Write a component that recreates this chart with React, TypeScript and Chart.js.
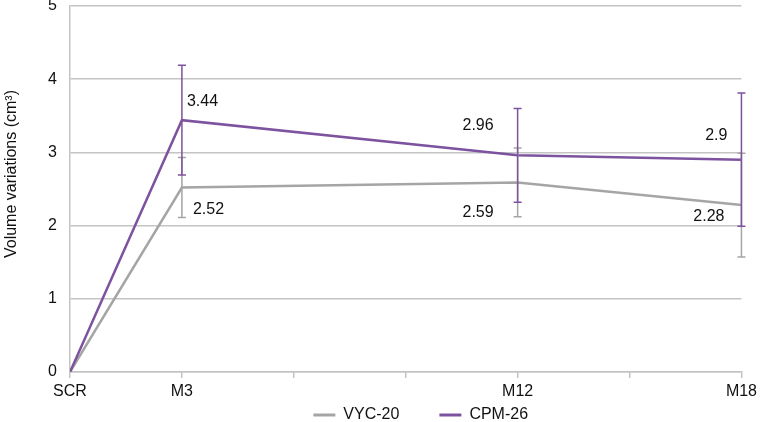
import React, { useEffect, useRef } from 'react';
import { Chart, registerables } from 'chart.js';

Chart.register(...registerables);

// ---- data ----
const months = [0, 3, 12, 18];
const monthLabels: Record<number, string> = { 0: 'SCR', 3: 'M3', 12: 'M12', 18: 'M18' };
const seriesNames = ['VYC-20', 'CPM-26'];
const vycValues = [0, 2.52, 2.59, 2.28];
const cpmValues = [0, 3.44, 2.96, 2.9];
const vycErrors = [0, 0.41, 0.47, 0.71];
const cpmErrors = [0, 0.75, 0.64, 0.91];
const yTicks = [0, 1, 2, 3, 4, 5];

// ---- styles ----
const GREY = '#A5A5A5';
const PURPLE = '#7D529F';
const GRID = '#C4C4C4';
const FONT = "'Liberation Sans', Arial, sans-serif";
const TEXT = '#111111';

// label placement (pixel offsets relative to the point)
const vycLabelPlacement = [null, { dx: 11, dy: 22, align: 'left' }, { dx: -24, dy: 30, align: 'right' }, { dx: -17, dy: 11, align: 'right' }];
const cpmLabelPlacement = [null, { dx: 5, dy: -19, align: 'left' }, { dx: -24, dy: -30, align: 'right' }, { dx: -14, dy: -24, align: 'right' }];

const errorsBySeries = [vycErrors, cpmErrors];
const placementsBySeries = [vycLabelPlacement, cpmLabelPlacement];

const errorBarPlugin = {
  id: 'errorBars',
  afterDatasetsDraw(chart: any) {
    const { ctx, scales } = chart;
    const xs = scales.x, ys = scales.y;
    chart.data.datasets.forEach((ds: any, di: number) => {
      const errs = errorsBySeries[di];
      ctx.save();
      ctx.strokeStyle = ds.borderColor;
      ctx.lineWidth = 1.5;
      ds.data.forEach((p: any, i: number) => {
        const e = errs[i];
        if (!e) return;
        const x = xs.getPixelForValue(p.x);
        const yt = ys.getPixelForValue(p.y + e);
        const yb = ys.getPixelForValue(p.y - e);
        ctx.beginPath();
        ctx.moveTo(x, yt); ctx.lineTo(x, yb);
        ctx.moveTo(x - 4, yt); ctx.lineTo(x + 4, yt);
        ctx.moveTo(x - 4, yb); ctx.lineTo(x + 4, yb);
        ctx.stroke();
      });
      ctx.restore();
    });
    // data labels
    chart.data.datasets.forEach((ds: any, di: number) => {
      const pl = placementsBySeries[di];
      ctx.save();
      ctx.font = `16px ${FONT}`;
      ctx.fillStyle = TEXT;
      ctx.textBaseline = 'middle';
      ds.data.forEach((p: any, i: number) => {
        const q = pl[i];
        if (!q) return;
        const x = xs.getPixelForValue(p.x);
        const y = ys.getPixelForValue(p.y);
        ctx.textAlign = q.align;
        ctx.fillText(String(p.y), x + q.dx, y + q.dy);
      });
      ctx.restore();
    });
  },
};

const titleLegendPlugin = {
  id: 'titleLegend',
  afterDraw(chart: any) {
    const { ctx, chartArea } = chart;
    ctx.save();
    // y axis title
    ctx.font = `16px ${FONT}`;
    ctx.fillStyle = TEXT;
    ctx.textAlign = 'center';
    ctx.textBaseline = 'middle';
    ctx.translate(12, (chartArea.top + chartArea.bottom) / 2 - 15);
    ctx.rotate(-Math.PI / 2);
    ctx.fillText('Volume variations (cm³)', 0, 0);
    ctx.restore();

    // legend
    ctx.save();
    ctx.font = `16px ${FONT}`;
    ctx.textBaseline = 'middle';
    ctx.textAlign = 'left';
    const lineW = 22, gap = 8, itemGap = 40;
    const items = chart.data.datasets.map((ds: any) => ({ label: ds.label, color: ds.borderColor, w: ctx.measureText(ds.label).width }));
    const total = items.reduce((s: number, it: any) => s + lineW + gap + it.w, 0) + itemGap * (items.length - 1);
    let x = (chartArea.left + chartArea.right) / 2 + 15 - total / 2;
    const y = 415;
    items.forEach((it: any) => {
      ctx.strokeStyle = it.color;
      ctx.lineWidth = 3;
      ctx.beginPath();
      ctx.moveTo(x, y); ctx.lineTo(x + lineW, y);
      ctx.stroke();
      ctx.fillStyle = TEXT;
      ctx.fillText(it.label, x + lineW + gap, y);
      x += lineW + gap + it.w + itemGap;
    });
    ctx.restore();
  },
};

export default function App() {
  const ref = useRef<HTMLCanvasElement | null>(null);
  useEffect(() => {
    if (!ref.current) return;
    const chart = new Chart(ref.current, {
      type: 'line',
      data: {
        datasets: [
          {
            label: seriesNames[0],
            data: months.map((m, i) => ({ x: m, y: vycValues[i] })),
            borderColor: GREY,
            backgroundColor: GREY,
            borderWidth: 2.5,
            pointRadius: 0,
            tension: 0,
            order: 1,
          },
          {
            label: seriesNames[1],
            data: months.map((m, i) => ({ x: m, y: cpmValues[i] })),
            borderColor: PURPLE,
            backgroundColor: PURPLE,
            borderWidth: 2.5,
            pointRadius: 0,
            tension: 0,
            order: 0,
          },
        ],
      },
      options: {
        animation: false,
        responsive: true,
        maintainAspectRatio: false,
        layout: { padding: { left: 0, right: 19, top: 0, bottom: 21 } },
        plugins: {
          legend: { display: false },
          tooltip: { enabled: false },
        },
        scales: {
          x: {
            type: 'linear',
            min: 0,
            max: 18,
            afterBuildTicks(scale: any) {
              const t = [];
              for (let v = 0; v <= 18; v += 3) t.push({ value: v });
              scale.ticks = t;
            },
            afterFit(scale: any) { scale.height = 29; },
            ticks: {
              autoSkip: false,
              maxRotation: 0,
              padding: 4,
              color: TEXT,
              font: { family: FONT, size: 16 },
              callback: (v: any) => monthLabels[v as number] ?? '',
            },
            grid: { drawOnChartArea: false, drawTicks: true, tickLength: 6, color: GRID, lineWidth: 1.5 },
            border: { display: true, color: GRID, width: 1.5 },
          },
          y: {
            type: 'linear',
            min: 0,
            max: 5,
            afterBuildTicks(scale: any) { scale.ticks = yTicks.map((v) => ({ value: v })); },
            afterFit(scale: any) { scale.width = 70; scale.paddingTop = 6; scale.paddingBottom = 0; },
            ticks: {
              padding: 13,
              color: TEXT,
              font: { family: FONT, size: 16 },
            },
            grid: { drawTicks: false, color: GRID, lineWidth: 1.5 },
            border: { display: true, color: GRID, width: 1.5 },
          },
        },
      } as any,
      plugins: [errorBarPlugin, titleLegendPlugin],
    });
    return () => chart.destroy();
  }, []);
  return (
    <div style={{ position: 'fixed', left: 0, top: 0, width: 761, height: 422, background: '#fff' }}>
      <canvas ref={ref} />
    </div>
  );
}
